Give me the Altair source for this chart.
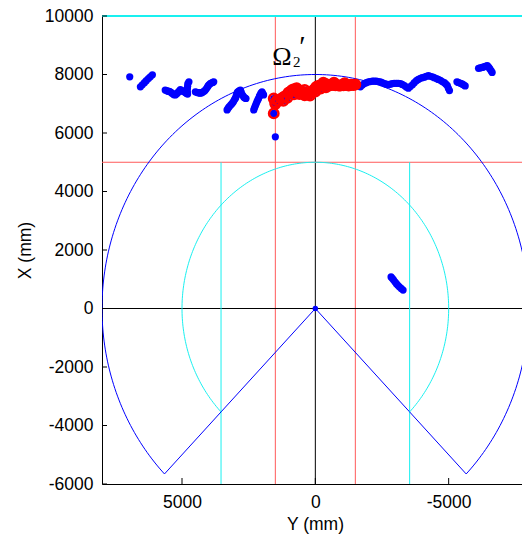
import altair as alt
import numpy as np
import pandas as pd

# ---------------- data ----------------
x_ticks = [5000, 0, -5000]                      # horizontal axis: Y (mm)
y_ticks = [-6000, -4000, -2000, 0, 2000, 4000, 6000, 8000, 10000]  # vertical axis: X (mm)

# blue track points as (Y horizontal mm, X vertical mm)
track_A = [(6960, 7920)]
track_B = [(6560, 7580), (6490, 7650), (6410, 7720), (6340, 7790), (6260, 7860),
           (6190, 7920), (6110, 7990)]
track_C = [(5630, 7470), (5580, 7450), (5530, 7430), (5480, 7420), (5440, 7410),
           (5390, 7370), (5340, 7340), (5300, 7310), (5250, 7300), (5200, 7340),
           (5160, 7380), (5110, 7430), (5060, 7480), (5000, 7450), (4950, 7420),
           (4900, 7400), (4860, 7380), (4820, 7350), (4790, 7330), (4800, 7430),
           (4800, 7520), (4790, 7600), (4780, 7690), (4740, 7750)]
track_D = [(4500, 7410), (4450, 7390), (4400, 7380), (4350, 7370), (4310, 7360),
           (4260, 7380), (4220, 7400), (4170, 7430), (4130, 7460), (4090, 7510),
           (4050, 7560), (4020, 7610), (3990, 7650), (3940, 7690), (3900, 7710),
           (3850, 7730), (3810, 7750)]
track_E = [(3310, 6790), (3270, 6850), (3230, 6900), (3170, 6960), (3120, 7010),
           (3080, 7060), (3050, 7110), (3020, 7160), (2990, 7200), (2970, 7260),
           (2950, 7320), (2930, 7370), (2910, 7410), (2860, 7440), (2810, 7470),
           (2780, 7400), (2750, 7320), (2710, 7270), (2680, 7220), (2640, 7200),
           (2600, 7180)]
track_F = [(2310, 6790), (2280, 6860), (2250, 6930), (2220, 7000), (2190, 7070),
           (2160, 7130), (2130, 7180), (2100, 7250), (2070, 7300), (2040, 7360),
           (2000, 7410), (1970, 7350), (1940, 7300)]
track_single = [(1560, 6670), (1500, 5870)]
track_G = [(-1690, 7580), (-1760, 7640), (-1840, 7690), (-1910, 7720), (-1990, 7750),
           (-2060, 7760), (-2140, 7770), (-2210, 7770), (-2290, 7770), (-2360, 7760),
           (-2440, 7750), (-2510, 7720), (-2590, 7690), (-2660, 7670), (-2740, 7650),
           (-2810, 7670), (-2890, 7690), (-2960, 7700), (-3040, 7700), (-3110, 7700),
           (-3190, 7690), (-3260, 7660), (-3340, 7620), (-3410, 7570), (-3490, 7530),
           (-3560, 7590), (-3640, 7650), (-3710, 7720), (-3790, 7790), (-3860, 7830),
           (-3940, 7870), (-4010, 7890), (-4090, 7910), (-4160, 7940), (-4240, 7960),
           (-4310, 7940), (-4390, 7920), (-4460, 7890), (-4540, 7860), (-4610, 7830),
           (-4690, 7800), (-4760, 7760), (-4840, 7720), (-4900, 7670), (-4950, 7620),
           (-4990, 7530), (-5030, 7450)]
track_H = [(-5310, 7750), (-5360, 7730), (-5420, 7710), (-5470, 7690), (-5520, 7670),
           (-5570, 7640), (-5620, 7610)]
track_I = [(-6120, 8210), (-6180, 8225), (-6250, 8240), (-6300, 8255), (-6350, 8270),
           (-6400, 8285), (-6450, 8300), (-6500, 8250), (-6540, 8200), (-6590, 8130),
           (-6630, 8070)]
track_J = [(-2840, 1080), (-2885, 1030), (-2930, 980), (-2985, 915), (-3040, 850),
           (-3095, 795), (-3150, 740), (-3220, 685), (-3290, 630)]

# red (selected) points inside the |Y| < 1500 band
red_Y = [1560, 1500, 1440, 1380, 1280, 1200, 1130, 1010, 930, 870, 800, 750, 680, 630,
         560, 500, 440, 380, 300, 260, 160, 100, 50, -20, -60, -140, -190, -250, -310,
         -380, -440, -500, -560, -620, -690, -750, -810, -880, -940, -1000, -1060, -1130,
         -1190, -1250, -1310, -1370, -1430, -1500,
         1500, 1200, 1050, 800, 600, 400, 200, 0, -200, -400,
         700, 400, -300, -700, -1100,
         1560]
red_X = [7180, 7040, 7120, 7100, 7170, 7220, 7260, 7380, 7420, 7470, 7500, 7440, 7420, 7470,
         7430, 7410, 7360, 7380, 7330, 7350, 7380, 7440, 7480, 7560, 7590, 7620, 7610, 7650, 7630,
         7670, 7660, 7640, 7630, 7660, 7650, 7630, 7640, 7620, 7620, 7640, 7630, 7650,
         7640, 7620, 7650, 7650, 7640, 7660,
         6990, 7100, 7200, 7320, 7330, 7290, 7280, 7420, 7520, 7560,
         7530, 7470, 7720, 7720, 7700,
         6670]

# reference geometry
outer_radius = 8000
inner_radius = 5000
half_angle = 135          # degrees each side of the +X direction
cyan_side_Y = [3536, -3536]
red_band_Y = [1500, -1500]
red_level_X = 5000
top_level_X = 10000

x_domain = [-7750, 8000]
y_domain = [-6000, 10000]

# ---------------- tables ----------------
blue_pts = (track_A + track_B + track_C + track_D + track_E + track_F + track_single
            + track_G + track_H + track_I + track_J)
blue_df = pd.DataFrame({"Y": [p[0] for p in blue_pts] + red_Y,
                        "X": [p[1] for p in blue_pts] + red_X})
red_df = pd.DataFrame({"Y": red_Y, "X": red_X})

ang = np.radians(np.linspace(-half_angle, half_angle, 271))
sector = pd.DataFrame({
    "Y": np.concatenate([[0], outer_radius * np.sin(ang), [0]]),
    "X": np.concatenate([[0], outer_radius * np.cos(ang), [0]]),
})
sector["i"] = np.arange(len(sector))
inner = pd.DataFrame({"Y": inner_radius * np.sin(ang), "X": inner_radius * np.cos(ang)})
inner["i"] = np.arange(len(inner))

rules = pd.DataFrame([
    # Y, Y2, X, X2, colour, width
    (0, 0, y_domain[0], y_domain[1], "#000000", 1.0),
    (red_band_Y[0], red_band_Y[0], y_domain[0], y_domain[1], "#ff5a5a", 1.0),
    (red_band_Y[1], red_band_Y[1], y_domain[0], y_domain[1], "#ff5a5a", 1.0),
    (x_domain[1], x_domain[0], 0, 0, "#000000", 1.0),
    (x_domain[1], x_domain[0], red_level_X, red_level_X, "#ff5a5a", 1.0),
    (x_domain[1], x_domain[0], top_level_X, top_level_X, "#19f0f0", 2.0),
    (cyan_side_Y[0], cyan_side_Y[0], y_domain[0], red_level_X, "#19f0f0", 1.0),
    (cyan_side_Y[1], cyan_side_Y[1], y_domain[0], red_level_X, "#19f0f0", 1.0),
], columns=["Y", "Y2", "X", "X2", "c", "w"])

labels = pd.DataFrame({
    "Y": [1620, 836, 600],
    "X": [8330, 8270, 8620],
    "t": ["Ω", "2", "′"],
    "s": [26, 15, 29],
})

# ---------------- encodings ----------------
FONT = "Liberation Sans"
LABEL_EXPR = "datum.value + ''"
xs = alt.Scale(domain=x_domain, reverse=True, nice=False, zero=False)
ys = alt.Scale(domain=y_domain, nice=False, zero=False)
x_axis = alt.Axis(values=x_ticks, title="Y (mm)", ticks=False, grid=False,
                  labelExpr=LABEL_EXPR,
                  labelFont=FONT, labelFontSize=17.5, labelColor="black", labelPadding=9,
                  labelFlush=False, domainColor="#000000", domainWidth=1,
                  titleFont=FONT, titleFontSize=17.5, titleFontWeight="normal",
                  titleColor="black", titleX=213, titleY=40, titleBaseline="middle",
                  titleAlign="center")
y_axis = alt.Axis(values=y_ticks, title="X (mm)", ticks=False, grid=False,
                  labelExpr=LABEL_EXPR,
                  labelFont=FONT, labelFontSize=17.5, labelColor="black", labelPadding=9,
                  labelFlush=False, domainColor="#000000", domainWidth=1,
                  titleFont=FONT, titleFontSize=17.5, titleFontWeight="normal",
                  titleColor="black", titleX=-77, titleY=234, titleAngle=270,
                  titleBaseline="middle", titleAlign="center")


def xe(field="Y"):
    return alt.X(f"{field}:Q", scale=xs, axis=x_axis)


def ye(field="X"):
    return alt.Y(f"{field}:Q", scale=ys, axis=y_axis)


rule_layer = alt.Chart(rules).mark_rule().encode(
    x=xe(), x2="Y2:Q", y=ye(), y2="X2:Q",
    color=alt.Color("c:N", scale=None),
    strokeWidth=alt.StrokeWidth("w:Q", scale=None),
)

sector_layer = alt.Chart(sector).mark_line(color="#0000ff", strokeWidth=1, clip=True).encode(
    x=xe(), y=ye(), order="i:Q")
inner_layer = alt.Chart(inner).mark_line(color="#19f0f0", strokeWidth=1, clip=True).encode(
    x=xe(), y=ye(), order="i:Q")

xt_layer = alt.Chart(pd.DataFrame({"Y": x_ticks})).mark_rule(color="#000000").encode(
    x=xe(), y=alt.value(468), y2=alt.value(462))
yt_layer = alt.Chart(pd.DataFrame({"X": y_ticks})).mark_rule(color="#000000").encode(
    y=ye(), x=alt.value(0), x2=alt.value(5))

origin_layer = alt.Chart(pd.DataFrame({"Y": [0], "X": [0]})).mark_point(
    filled=True, shape="circle", size=30, color="#0000ff", opacity=1).encode(x=xe(), y=ye())

blue_layer = alt.Chart(blue_df).mark_point(
    filled=True, shape="circle", size=52, color="#0000ff", opacity=1).encode(x=xe(), y=ye())

red_layer = alt.Chart(red_df).mark_point(
    filled=False, shape="circle", size=90, color="#ff0000", strokeWidth=2.4, opacity=1).encode(
    x=xe(), y=ye())

text_layer = alt.Chart(labels).mark_text(
    font="Liberation Serif", align="left", baseline="alphabetic", color="black").encode(
    x=xe(), y=ye(), text="t:N", size=alt.Size("s:Q", scale=None))

chart = alt.layer(
    rule_layer, sector_layer, inner_layer, xt_layer, yt_layer,
    blue_layer, red_layer, origin_layer, text_layer,
).properties(
    width=420, height=468,
    autosize=alt.AutoSizeParams(type="none"),
    padding={"left": 102, "top": 16, "right": 0, "bottom": 51},
).configure_view(strokeWidth=0)

chart.save("out.html", embed_options={"renderer": "svg", "actions": False})
